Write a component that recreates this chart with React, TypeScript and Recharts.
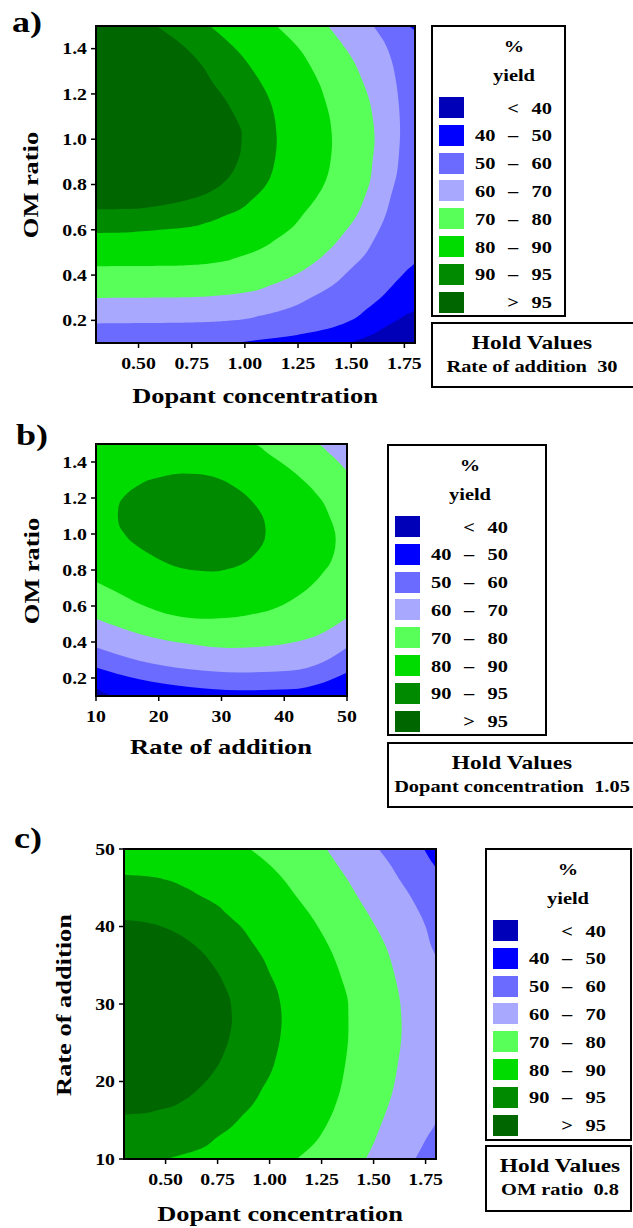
import React from "react";
import { ComposedChart, Area, XAxis, YAxis, CartesianGrid } from "recharts";

const FONT = "'Liberation Serif', 'Times New Roman', serif";

// yield bands, lowest first
const bandColors = ["#0000b8", "#0000ff", "#6b6bff", "#a8a8ff", "#58ff58", "#00db00", "#008a00", "#006600"];
const bandFrom = ["", "40", "50", "60", "70", "80", "90", ""];
const bandSign = ["<", "–", "–", "–", "–", "–", "–", ">"];
const bandTo = ["40", "50", "60", "70", "80", "90", "95", "95"];

const dopantTicks = [0.5, 0.75, 1.0, 1.25, 1.5, 1.75];
const omTicks = [0.2, 0.4, 0.6, 0.8, 1.0, 1.2, 1.4];
const rateTicks = [10, 20, 30, 40, 50];

// right-hand edge of each "yield above level" region, read top to bottom
type Edge = { y: number; x: number };
// lower / upper edge of a region at a given x
type Row = { x: number; lo: number; hi: number };

// a) dopant concentration (x) vs OM ratio (y), rate of addition = 30
const a40: Edge[] = [
  { y: 1.5, x: 1.8 }, { y: 0.25, x: 1.8 }, { y: 0.22, x: 1.75 }, { y: 0.19, x: 1.698 },
  { y: 0.165, x: 1.65 }, { y: 0.14, x: 1.604 }, { y: 0.12, x: 1.55 }, { y: 0.1, x: 1.494 },
];
const a50: Edge[] = [
  { y: 1.5, x: 1.769 }, { y: 1.473, x: 1.8 }, { y: 0.46, x: 1.8 }, { y: 0.42, x: 1.76 },
  { y: 0.37, x: 1.71 }, { y: 0.31, x: 1.65 }, { y: 0.25, x: 1.573 }, { y: 0.2, x: 1.5 },
  { y: 0.17, x: 1.416 }, { y: 0.145, x: 1.3 }, { y: 0.126, x: 1.18 }, { y: 0.113, x: 1.06 },
  { y: 0.1, x: 0.946 },
];
const a60: Edge[] = [
  { y: 1.5, x: 1.604 }, { y: 1.43, x: 1.655 }, { y: 1.348, x: 1.69 }, { y: 1.26, x: 1.71 },
  { y: 1.173, x: 1.722 }, { y: 1.1, x: 1.728 }, { y: 1.026, x: 1.73 }, { y: 0.94, x: 1.725 },
  { y: 0.851, x: 1.715 }, { y: 0.76, x: 1.69 }, { y: 0.661, x: 1.66 }, { y: 0.57, x: 1.615 },
  { y: 0.485, x: 1.56 }, { y: 0.42, x: 1.49 }, { y: 0.353, x: 1.41 }, { y: 0.3, x: 1.31 },
  { y: 0.251, x: 1.197 }, { y: 0.22, x: 1.07 }, { y: 0.2, x: 0.946 }, { y: 0.19, x: 0.75 },
  { y: 0.186, x: 0.3 },
];
const a70: Edge[] = [
  { y: 1.5, x: 1.392 }, { y: 1.43, x: 1.45 }, { y: 1.348, x: 1.51 }, { y: 1.26, x: 1.552 },
  { y: 1.173, x: 1.585 }, { y: 1.09, x: 1.602 }, { y: 0.997, x: 1.61 }, { y: 0.9, x: 1.6 },
  { y: 0.821, x: 1.59 }, { y: 0.74, x: 1.562 }, { y: 0.661, x: 1.525 }, { y: 0.59, x: 1.47 },
  { y: 0.514, x: 1.4 }, { y: 0.45, x: 1.32 }, { y: 0.397, x: 1.228 }, { y: 0.355, x: 1.12 },
  { y: 0.324, x: 1.008 }, { y: 0.31, x: 0.88 }, { y: 0.302, x: 0.726 }, { y: 0.299, x: 0.3 },
];
const a80: Edge[] = [
  { y: 1.5, x: 1.15 }, { y: 1.45, x: 1.205 }, { y: 1.392, x: 1.262 }, { y: 1.32, x: 1.31 },
  { y: 1.246, x: 1.35 }, { y: 1.17, x: 1.378 }, { y: 1.1, x: 1.398 }, { y: 1.04, x: 1.407 },
  { y: 0.982, x: 1.41 }, { y: 0.92, x: 1.405 }, { y: 0.851, x: 1.392 }, { y: 0.79, x: 1.367 },
  { y: 0.734, x: 1.33 }, { y: 0.675, x: 1.28 }, { y: 0.617, x: 1.23 }, { y: 0.56, x: 1.15 },
  { y: 0.514, x: 1.071 }, { y: 0.48, x: 0.97 }, { y: 0.456, x: 0.867 }, { y: 0.445, x: 0.75 },
  { y: 0.441, x: 0.632 }, { y: 0.439, x: 0.3 },
];
const a90: Edge[] = [
  { y: 1.5, x: 0.836 }, { y: 1.44, x: 0.91 }, { y: 1.378, x: 0.977 }, { y: 1.3, x: 1.04 },
  { y: 1.231, x: 1.087 }, { y: 1.16, x: 1.122 }, { y: 1.085, x: 1.142 }, { y: 1.03, x: 1.148 },
  { y: 0.99, x: 1.15 }, { y: 0.94, x: 1.146 }, { y: 0.88, x: 1.135 }, { y: 0.82, x: 1.113 },
  { y: 0.778, x: 1.083 }, { y: 0.73, x: 1.03 }, { y: 0.69, x: 0.977 }, { y: 0.66, x: 0.9 },
  { y: 0.631, x: 0.82 }, { y: 0.61, x: 0.72 }, { y: 0.602, x: 0.632 }, { y: 0.592, x: 0.5 },
  { y: 0.588, x: 0.444 }, { y: 0.586, x: 0.3 },
];
const a95: Edge[] = [
  { y: 1.5, x: 0.585 }, { y: 1.45, x: 0.66 }, { y: 1.4, x: 0.726 }, { y: 1.33, x: 0.795 },
  { y: 1.246, x: 0.852 }, { y: 1.18, x: 0.905 }, { y: 1.114, x: 0.946 }, { y: 1.07, x: 0.97 },
  { y: 1.026, x: 0.985 }, { y: 0.96, x: 0.982 }, { y: 0.909, x: 0.969 }, { y: 0.86, x: 0.945 },
  { y: 0.821, x: 0.914 }, { y: 0.78, x: 0.86 }, { y: 0.748, x: 0.789 }, { y: 0.725, x: 0.7 },
  { y: 0.712, x: 0.632 }, { y: 0.7, x: 0.55 }, { y: 0.693, x: 0.476 }, { y: 0.69, x: 0.3 },
];

// b) rate of addition (x) vs OM ratio (y), dopant concentration = 1.05
const b40: Row[] = [
  { x: 10, lo: 0.145, hi: 1.5 }, { x: 11.5, lo: 0.115, hi: 1.5 }, { x: 13, lo: 0.1, hi: 1.5 },
  { x: 50, lo: 0.1, hi: 1.5 },
];
const b50: Row[] = [
  { x: 10, lo: 0.259, hi: 1.5 }, { x: 16.9, lo: 0.193, hi: 1.5 }, { x: 24.9, lo: 0.15, hi: 1.5 },
  { x: 32.9, lo: 0.132, hi: 1.5 }, { x: 40.9, lo: 0.137, hi: 1.5 }, { x: 46.3, lo: 0.175, hi: 1.5 },
  { x: 50, lo: 0.23, hi: 1.5 },
];
const b60: Row[] = [
  { x: 10, lo: 0.371, hi: 1.5 }, { x: 16.9, lo: 0.296, hi: 1.5 }, { x: 24.9, lo: 0.249, hi: 1.5 },
  { x: 32.9, lo: 0.231, hi: 1.5 }, { x: 40.9, lo: 0.24, hi: 1.5 }, { x: 46.3, lo: 0.29, hi: 1.5 },
  { x: 50, lo: 0.37, hi: 1.5 },
];
const b70: Row[] = [
  { x: 10, lo: 0.529, hi: 1.5 }, { x: 16.9, lo: 0.445, hi: 1.5 }, { x: 24.9, lo: 0.389, hi: 1.5 },
  { x: 31.3, lo: 0.367, hi: 1.5 }, { x: 38.3, lo: 0.38, hi: 1.5 }, { x: 43.6, lo: 0.417, hi: 1.5 },
  { x: 45.2, lo: 0.435, hi: 1.5 }, { x: 47.3, lo: 0.473, hi: 1.444 }, { x: 50, lo: 0.535, hi: 1.35 },
];
const b80: Row[] = [
  { x: 10, lo: 0.735, hi: 1.5 }, { x: 13.2, lo: 0.679, hi: 1.5 }, { x: 16.9, lo: 0.613, hi: 1.5 },
  { x: 22.3, lo: 0.548, hi: 1.5 }, { x: 27.1, lo: 0.529, hi: 1.5 }, { x: 32.4, lo: 0.539, hi: 1.5 },
  { x: 35.07, lo: 0.555, hi: 1.5 }, { x: 37.7, lo: 0.576, hi: 1.44 }, { x: 42.0, lo: 0.651, hi: 1.33 },
  { x: 45.2, lo: 0.744, hi: 1.22 }, { x: 46.3, lo: 0.79, hi: 1.17 }, { x: 47.3, lo: 0.837, hi: 1.09 },
  { x: 47.7, lo: 0.87, hi: 1.055 }, { x: 48.0, lo: 0.905, hi: 1.02 }, { x: 48.15, lo: 0.94, hi: 0.995 },
  { x: 48.2, lo: 0.968, hi: 0.968 },
];
const b90: Row[] = [
  { x: 13.47, lo: 1.105, hi: 1.105 }, { x: 13.55, lo: 1.07, hi: 1.14 }, { x: 13.8, lo: 1.04, hi: 1.175 },
  { x: 14.3, lo: 1.012, hi: 1.2 }, { x: 15.3, lo: 0.968, hi: 1.236 }, { x: 16.5, lo: 0.935, hi: 1.265 },
  { x: 18.0, lo: 0.9, hi: 1.295 }, { x: 19.5, lo: 0.87, hi: 1.31 }, { x: 21.5, lo: 0.835, hi: 1.327 },
  { x: 23.8, lo: 0.809, hi: 1.336 }, { x: 26.0, lo: 0.797, hi: 1.333 }, { x: 28.7, lo: 0.791, hi: 1.318 },
  { x: 31.0, lo: 0.805, hi: 1.285 }, { x: 33.0, lo: 0.828, hi: 1.24 }, { x: 34.5, lo: 0.86, hi: 1.195 },
  { x: 35.5, lo: 0.895, hi: 1.155 }, { x: 36.2, lo: 0.925, hi: 1.12 }, { x: 36.7, lo: 0.955, hi: 1.085 },
  { x: 36.95, lo: 0.985, hi: 1.05 }, { x: 37.04, lo: 1.015, hi: 1.015 },
];

// c) dopant concentration (x) vs rate of addition (y), OM ratio = 0.8
const c50: Edge[] = [{ y: 50, x: 1.742 }, { y: 48.7, x: 1.77 }, { y: 47.3, x: 1.8 }, { y: 10, x: 1.8 }];
const c60: Edge[] = [
  { y: 50, x: 1.524 }, { y: 48.2, x: 1.575 }, { y: 46.2, x: 1.621 }, { y: 44, x: 1.675 },
  { y: 41.9, x: 1.718 }, { y: 40, x: 1.75 }, { y: 37.6, x: 1.775 }, { y: 35.8, x: 1.8 },
  { y: 15.1, x: 1.8 }, { y: 12.5, x: 1.75 }, { y: 10, x: 1.7 },
];
const c70: Edge[] = [
  { y: 50, x: 1.274 }, { y: 48.2, x: 1.32 }, { y: 46.2, x: 1.371 }, { y: 44, x: 1.42 },
  { y: 41.9, x: 1.468 }, { y: 37.6, x: 1.556 }, { y: 33.3, x: 1.605 }, { y: 29.9, x: 1.629 },
  { y: 26.7, x: 1.635 }, { y: 22, x: 1.615 }, { y: 18.5, x: 1.589 }, { y: 16.5, x: 1.565 },
  { y: 14.2, x: 1.532 }, { y: 12, x: 1.5 }, { y: 10, x: 1.462 },
];
const c80: Edge[] = [
  { y: 50, x: 0.905 }, { y: 48.2, x: 0.99 }, { y: 46.2, x: 1.063 }, { y: 44, x: 1.125 },
  { y: 41.9, x: 1.185 }, { y: 37.6, x: 1.282 }, { y: 33.3, x: 1.346 }, { y: 29.9, x: 1.378 },
  { y: 26.7, x: 1.379 }, { y: 22, x: 1.362 }, { y: 18, x: 1.33 }, { y: 14.2, x: 1.27 },
  { y: 12, x: 1.215 }, { y: 10, x: 1.13 },
];
const c90: Edge[] = [
  { y: 46.68, x: 0.3 }, { y: 46.46, x: 0.42 }, { y: 46.0, x: 0.505 }, { y: 45.17, x: 0.585 },
  { y: 43.98, x: 0.666 }, { y: 42.79, x: 0.747 }, { y: 41.6, x: 0.795 }, { y: 39.56, x: 0.876 },
  { y: 38.3, x: 0.908 }, { y: 35.67, x: 0.973 }, { y: 34.2, x: 0.997 }, { y: 31.79, x: 1.037 },
  { y: 30.3, x: 1.05 }, { y: 28.1, x: 1.058 }, { y: 25.5, x: 1.05 }, { y: 23.8, x: 1.037 },
  { y: 20.57, x: 0.997 }, { y: 19.5, x: 0.973 }, { y: 16.69, x: 0.908 }, { y: 15.8, x: 0.876 },
  { y: 13.67, x: 0.795 }, { y: 12.8, x: 0.747 }, { y: 11.29, x: 0.666 }, { y: 10.6, x: 0.585 },
  { y: 10, x: 0.505 },
];
const c95: Edge[] = [
  { y: 40.85, x: 0.3 }, { y: 40.7, x: 0.36 }, { y: 40.42, x: 0.424 }, { y: 39.9, x: 0.49 },
  { y: 39.13, x: 0.553 }, { y: 38.2, x: 0.61 }, { y: 36.97, x: 0.666 }, { y: 35.3, x: 0.72 },
  { y: 33.52, x: 0.763 }, { y: 32.0, x: 0.79 }, { y: 30.5, x: 0.811 }, { y: 28.12, x: 0.819 },
  { y: 25.32, x: 0.803 }, { y: 23.5, x: 0.778 }, { y: 21.87, x: 0.747 }, { y: 20.2, x: 0.7 },
  { y: 18.85, x: 0.65 }, { y: 17.6, x: 0.59 }, { y: 16.69, x: 0.521 }, { y: 16.3, x: 0.46 },
  { y: 15.91, x: 0.392 }, { y: 15.74, x: 0.3 },
];

const range = (d: Row) => [d.lo, d.hi];

type Anchor = "start" | "middle" | "end";

function Caption({ x, y, size, anchor = "middle", rotate = false, children }: {
  x: number; y: number; size: number; anchor?: Anchor; rotate?: boolean; children: React.ReactNode;
}) {
  const tx = anchor === "middle" ? "-50%" : anchor === "end" ? "-100%" : "0";
  const origin = anchor === "middle" ? "center" : anchor === "end" ? "right center" : "left center";
  return (
    <div
      style={{
        position: "absolute",
        left: x,
        top: y,
        fontFamily: FONT,
        fontWeight: 700,
        fontSize: size,
        lineHeight: 1,
        whiteSpace: "nowrap",
        color: "#000",
        transformOrigin: origin,
        transform: `translate(${tx}, -50%) ${rotate ? "rotate(-90deg) " : ""}scaleX(1.2)`,
      }}
    >
      {children}
    </div>
  );
}

const tickStyle = { fontFamily: FONT, fontWeight: 700, fontSize: 16.5, fill: "#000" };

function XTick({ x, y, payload, digits }: any) {
  return (
    <g transform={`translate(${x},${y})`}>
      <text transform="scale(1.2,1)" textAnchor="middle" dy="0.71em" style={tickStyle}>
        {Number(payload.value).toFixed(digits)}
      </text>
    </g>
  );
}

function YTick({ x, y, payload, digits }: any) {
  return (
    <g transform={`translate(${x},${y})`}>
      <text transform="scale(1.2,1)" textAnchor="end" dy="0.35em" style={tickStyle}>
        {Number(payload.value).toFixed(digits)}
      </text>
    </g>
  );
}

type Layer = { data: any[]; band: number };

function ContourChart({ left, top, w, h, xDomain, yDomain, xTicks, yTicks, xDigits, yDigits, bg, layers, vertical }: {
  left: number; top: number; w: number; h: number;
  xDomain: [number, number]; yDomain: [number, number];
  xTicks: number[]; yTicks: number[]; xDigits: number; yDigits: number;
  bg: number; layers: Layer[]; vertical: boolean;
}) {
  const YW = 50;
  const M = 10;
  return (
    <div style={{ position: "absolute", left: left - YW, top: top - M }}>
      <ComposedChart
        width={YW + w + M}
        height={M + h + 32}
        layout={vertical ? "vertical" : "horizontal"}
        margin={{ top: M, right: M, left: 0, bottom: 0 }}
      >
        <CartesianGrid horizontal={false} vertical={false} fill={bandColors[bg]} fillOpacity={1} />
        <XAxis
          type="number"
          dataKey={vertical ? undefined : "x"}
          domain={xDomain}
          ticks={xTicks}
          interval={0}
          allowDataOverflow
          height={32}
          axisLine={false}
          tickSize={5}
          tickMargin={9}
          tickLine={{ stroke: "#000", strokeWidth: 1.5 }}
          tick={(p: any) => <XTick {...p} digits={xDigits} />}
        />
        <YAxis
          type="number"
          dataKey={vertical ? "y" : undefined}
          reversed={vertical}
          domain={yDomain}
          ticks={yTicks}
          interval={0}
          allowDataOverflow
          width={YW}
          axisLine={false}
          tickSize={5}
          tickMargin={4}
          tickLine={{ stroke: "#000", strokeWidth: 1.5 }}
          tick={(p: any) => <YTick {...p} digits={yDigits} />}
        />
        {layers.map((l, i) => (
          <Area
            key={i}
            data={l.data}
            dataKey={vertical ? "x" : range}
            baseValue="dataMin"
            type="monotone"
            fill={bandColors[l.band]}
            fillOpacity={1}
            stroke="none"
            dot={false}
            activeDot={false}
            isAnimationActive={false}
          />
        ))}
      </ComposedChart>
      <div
        style={{
          position: "absolute",
          left: YW - 1,
          top: M - 1,
          width: w + 2,
          height: h + 2,
          border: "2px solid #000",
          boxSizing: "border-box",
          pointerEvents: "none",
        }}
      />
    </div>
  );
}

function YieldLegend({ left, top, width, height }: { left: number; top: number; width: number; height: number }) {
  const sx = left + 8;
  return (
    <>
      <div style={{ position: "absolute", left, top, width, height, border: "2px solid #000", boxSizing: "border-box" }} />
      <Caption x={sx + 75} y={top + 21} size={17}>%</Caption>
      <Caption x={sx + 75} y={top + 50} size={17}>yield</Caption>
      {bandColors.map((c, i) => {
        const ry = top + 72 + i * 27.8;
        return (
          <React.Fragment key={i}>
            <div style={{ position: "absolute", left: sx, top: ry, width: 25, height: 21, background: c }} />
            {bandFrom[i] && (
              <Caption x={sx + 36} y={ry + 10.5} size={17} anchor="start">{bandFrom[i]}</Caption>
            )}
            <Caption x={sx + 74} y={ry + 10.5} size={17}>{bandSign[i]}</Caption>
            <Caption x={sx + 113} y={ry + 10.5} size={17} anchor="end">{bandTo[i]}</Caption>
          </React.Fragment>
        );
      })}
    </>
  );
}

function HoldBox({ left, top, width, height, cx, text }: {
  left: number; top: number; width: number; height: number; cx: number; text: string;
}) {
  return (
    <>
      <div style={{ position: "absolute", left, top, width, height, border: "2px solid #000", boxSizing: "border-box" }} />
      <Caption x={cx} y={top + 21} size={19.5}>Hold Values</Caption>
      <Caption x={cx} y={top + 44} size={17}>{text}</Caption>
    </>
  );
}

export default function App() {
  return (
    <div
      style={{
        position: "absolute",
        left: 0,
        top: 0,
        width: 633,
        height: 1228,
        overflow: "hidden",
        background: "#fff",
      }}
    >
      {/* a) */}
      <Caption x={12} y={22} size={30} anchor="start">a)</Caption>
      <ContourChart
        left={96} top={26} w={319} h={317}
        xDomain={[0.3, 1.8]} yDomain={[0.1, 1.5]}
        xTicks={dopantTicks} yTicks={omTicks} xDigits={2} yDigits={1}
        bg={0} vertical
        layers={[
          { data: a40, band: 1 }, { data: a50, band: 2 }, { data: a60, band: 3 }, { data: a70, band: 4 },
          { data: a80, band: 5 }, { data: a90, band: 6 }, { data: a95, band: 7 },
        ]}
      />
      <Caption x={31} y={185} size={22} rotate>OM ratio</Caption>
      <Caption x={255} y={396} size={22}>Dopant concentration</Caption>
      <YieldLegend left={431} top={25} width={135} height={292} />
      <HoldBox left={431} top={322} width={260} height={66} cx={532} text={"Rate of addition\u00a0\u00a030"} />

      {/* b) */}
      <Caption x={16} y={435} size={30} anchor="start">b)</Caption>
      <ContourChart
        left={96} top={444} w={251} h={252}
        xDomain={[10, 50]} yDomain={[0.1, 1.5]}
        xTicks={rateTicks} yTicks={omTicks} xDigits={0} yDigits={1}
        bg={0} vertical={false}
        layers={[
          { data: b40, band: 1 }, { data: b50, band: 2 }, { data: b60, band: 3 },
          { data: b70, band: 4 }, { data: b80, band: 5 }, { data: b90, band: 6 },
        ]}
      />
      <Caption x={32} y={571} size={22} rotate>OM ratio</Caption>
      <Caption x={221} y={747} size={22}>Rate of addition</Caption>
      <YieldLegend left={387} top={444} width={160} height={292} />
      <HoldBox left={387} top={742} width={300} height={66} cx={512} text={"Dopant concentration\u00a0\u00a01.05"} />

      {/* c) */}
      <Caption x={14} y={838} size={30} anchor="start">c)</Caption>
      <ContourChart
        left={124} top={849} w={312} h={310}
        xDomain={[0.3, 1.8]} yDomain={[10, 50]}
        xTicks={dopantTicks} yTicks={rateTicks} xDigits={2} yDigits={0}
        bg={1} vertical
        layers={[
          { data: c50, band: 2 }, { data: c60, band: 3 }, { data: c70, band: 4 },
          { data: c80, band: 5 }, { data: c90, band: 6 }, { data: c95, band: 7 },
        ]}
      />
      <Caption x={64} y={1005} size={22} rotate>Rate of addition</Caption>
      <Caption x={280} y={1214} size={22}>Dopant concentration</Caption>
      <YieldLegend left={485} top={848} width={147} height={293} />
      <HoldBox left={485} top={1145} width={147} height={67} cx={560} text={"OM ratio\u00a0\u00a00.8"} />
    </div>
  );
}
